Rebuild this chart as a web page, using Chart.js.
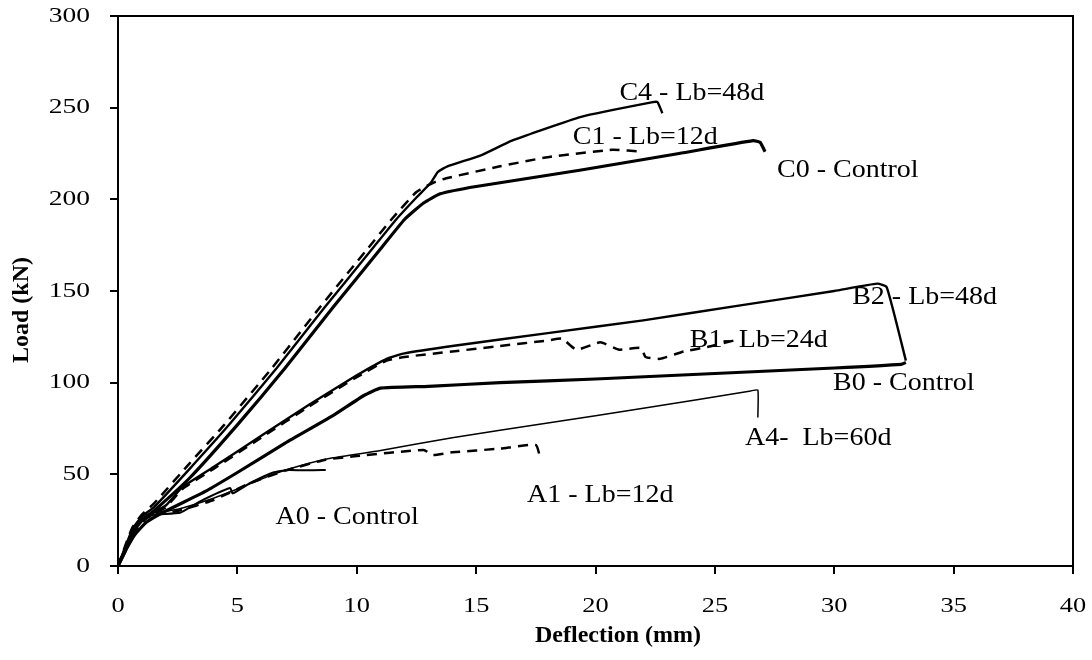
<!DOCTYPE html>
<html>
<head>
<meta charset="utf-8">
<script src="https://cdn.jsdelivr.net/npm/chart.js@4/dist/chart.umd.min.js"></script>
<style>
  html, body { margin: 0; padding: 0; background: #fff; }
  #wrap { width: 1092px; height: 660px; }
</style>
</head>
<body>
<div id="wrap"><canvas id="chart"></canvas></div>
<script>
// ===== DATA (deflection mm / load kN) =====
const c0X = [0, 0.3, 0.6, 1.0, 1.5, 3, 5, 7, 9, 11, 12, 12.8, 13.5, 15, 19.4, 23.5, 26.6, 26.9, 27.1];
const c0Y = [0, 8, 18, 25, 30, 48, 77, 108, 141, 173, 189, 198, 203, 207, 216, 225, 232, 231, 226];

const c4X = [0, 0.3, 0.6, 1.0, 1.5, 3, 4.65, 6.65, 8.65, 10.65, 11.65, 12.5, 13.1, 13.4, 13.8, 15.2, 16.5, 19.4, 22.4, 22.6, 22.8];
const c4Y = [0, 10, 20, 27, 32, 53, 77, 108, 141, 173, 189, 201, 209, 215, 218, 224, 232, 245, 253, 253, 247];

const c1X = [0, 0.3, 0.6, 1.0, 1.5, 3, 4.45, 6.45, 8.45, 10.45, 11.45, 12.5, 13.2, 13.75, 16, 18, 20.7, 22];
const c1Y = [0, 11, 21, 28, 34, 56, 77, 108, 141, 173, 189, 204, 209, 211.5, 218, 223, 227, 226];

const b2X = [0, 0.3, 0.7, 1.2, 2, 2.7, 4, 6, 8, 10, 11.25, 12, 14, 18, 22, 26, 30, 31.8, 32.2, 33];
const b2Y = [0, 10, 20, 27, 33, 43, 54, 71, 88, 104, 113, 116, 120, 127, 134, 142, 150, 154, 152, 112];

const b1X = [0, 0.3, 0.7, 1.2, 2, 2.7, 4, 6, 8, 10, 11.25, 12, 14, 16, 18, 18.6, 19.2, 20.2, 21, 21.9, 22.1, 22.7, 23.7, 24.7, 25.8];
const b1Y = [0, 9, 19, 26, 32, 42, 53, 70, 87, 103, 112, 114, 117, 120, 123, 124, 118, 122, 118, 119, 114, 113, 117, 119.5, 123];

const b0X = [0, 0.3, 0.7, 1.2, 2, 3.7, 5, 7, 9, 10.3, 11, 13, 16, 20, 25, 30, 32.8, 33];
const b0Y = [0, 8, 17, 24, 30, 41, 51, 67, 82, 93, 97, 98, 100, 102, 105, 108, 110, 111];

const a4X = [0, 0.3, 0.6, 1.0, 1.5, 2.5, 4, 5, 6.5, 8, 9, 11, 14, 18, 22, 26.5, 26.8, 26.8];
const a4Y = [0, 10, 20, 27, 29, 31, 37, 42, 50, 56, 59, 63, 70, 78, 86, 95.5, 96, 81];

const a1X = [0, 0.3, 0.6, 1.0, 1.5, 2.5, 4, 5.5, 7, 8.7, 10, 12.8, 13.2, 14, 16, 17.5, 17.7];
const a1Y = [0, 9, 19, 26, 28, 30, 36, 45, 52, 58, 60, 63.3, 60.5, 62, 64, 66, 58];

const a0X = [0, 0.3, 0.6, 1.0, 1.5, 2.6, 3.4, 4.7, 4.8, 5.5, 6.5, 7.1, 8.0, 8.7];
const a0Y = [0, 9, 18, 25, 28, 29, 35, 42.5, 39.6, 45, 51, 52.4, 52.2, 52.4];

// curve labels
const noteText = ['C4 - Lb=48d', 'C1 - Lb=12d', 'C0 - Control', 'B2 - Lb=48d', 'B1- Lb=24d',
                  'B0 - Control', 'A4-  Lb=60d', 'A1 - Lb=12d', 'A0 - Control'];
const noteX = [21.0, 19.05, 27.6, 30.75, 23.95, 29.95, 26.26, 17.13, 6.6];
const noteY = [258, 234, 216, 146.7, 123.3, 99.8, 69.8, 38.7, 26.7];

const xTicks = [0, 5, 10, 15, 20, 25, 30, 35, 40];
const yTicks = [0, 50, 100, 150, 200, 250, 300];

// ===== BUILD =====
function pts(xs, ys) {
  return xs.map(function (x, i) { return { x: x, y: ys[i] }; });
}

function line(label, xs, ys, width, dash) {
  return {
    label: label,
    data: pts(xs, ys),
    showLine: true,
    borderColor: '#000',
    backgroundColor: '#000',
    borderWidth: width,
    borderDash: dash || [],
    pointRadius: 0,
    tension: 0.15,
    fill: false
  };
}

const SERIF = '"Liberation Serif", "Times New Roman", serif';

// text stretched sideways, the original figure is a bit wider than tall
function wideText(ctx, t, x, y, k) {
  ctx.save();
  ctx.translate(x, y);
  ctx.scale(k, 1);
  ctx.fillText(t, 0, 0);
  ctx.restore();
}

const boxPlugin = {
  id: 'box',
  afterDraw: function (chart) {
    const a = chart.chartArea;
    const ctx = chart.ctx;
    const xs = chart.scales.x, ys = chart.scales.y;
    ctx.save();
    ctx.strokeStyle = '#000';
    ctx.lineWidth = 2;
    ctx.strokeRect(a.left, a.top, a.right - a.left, a.bottom - a.top);

    ctx.fillStyle = '#000';
    ctx.textBaseline = 'middle';

    // tick labels
    ctx.font = '22px ' + SERIF;
    ctx.textAlign = 'center';
    xTicks.forEach(function (v) {
      wideText(ctx, String(v), xs.getPixelForValue(v), a.bottom + 40, 1.2);
    });
    ctx.textAlign = 'right';
    yTicks.forEach(function (v) {
      wideText(ctx, String(v), a.left - 28, ys.getPixelForValue(v), 1.25);
    });

    // axis titles
    ctx.font = 'bold 24px ' + SERIF;
    ctx.textAlign = 'center';
    ctx.fillText('Deflection (mm)', 618, a.bottom + 70);
    ctx.save();
    ctx.translate(22, 310);
    ctx.rotate(-Math.PI / 2);
    ctx.fillText('Load (kN)', 0, 0);
    ctx.restore();

    // curve labels
    ctx.font = '25px ' + SERIF;
    ctx.textAlign = 'left';
    noteText.forEach(function (t, i) {
      wideText(ctx, t, xs.getPixelForValue(noteX[i]), ys.getPixelForValue(noteY[i]), 1.12);
    });
    ctx.restore();
  }
};

new Chart(document.getElementById('chart'), {
  type: 'scatter',
  data: {
    datasets: [
      line('C0', c0X, c0Y, 3.2),
      line('C4', c4X, c4Y, 2.4),
      line('C1', c1X, c1Y, 2.5, [10, 7]),
      line('B2', b2X, b2Y, 2.4),
      line('B1', b1X, b1Y, 2.5, [10, 7]),
      line('B0', b0X, b0Y, 3.2),
      line('A4', a4X, a4Y, 1.5),
      line('A1', a1X, a1Y, 2.5, [10, 7]),
      line('A0', a0X, a0Y, 2)
    ]
  },
  options: {
    responsive: true,
    maintainAspectRatio: false,
    animation: false,
    layout: { padding: { top: 16, right: 19, left: 0, bottom: 0 } },
    plugins: { legend: { display: false }, tooltip: { enabled: false } },
    scales: {
      x: {
        type: 'linear',
        min: 0, max: 40,
        afterFit: function (s) { s.height = 94; },
        afterBuildTicks: function (s) { s.ticks = xTicks.map(function (v) { return { value: v }; }); },
        border: { display: true, color: '#000', width: 2 },
        grid: { drawOnChartArea: false, drawTicks: true, tickLength: 8, color: '#000', lineWidth: 2 },
        ticks: { display: false }
      },
      y: {
        type: 'linear',
        min: 0, max: 300,
        afterFit: function (s) { s.width = 118; },
        afterBuildTicks: function (s) { s.ticks = yTicks.map(function (v) { return { value: v }; }); },
        border: { display: true, color: '#000', width: 2 },
        grid: { drawOnChartArea: false, drawTicks: true, tickLength: 8, color: '#000', lineWidth: 2 },
        ticks: { display: false }
      }
    }
  },
  plugins: [boxPlugin]
});
</script>
</body>
</html>
